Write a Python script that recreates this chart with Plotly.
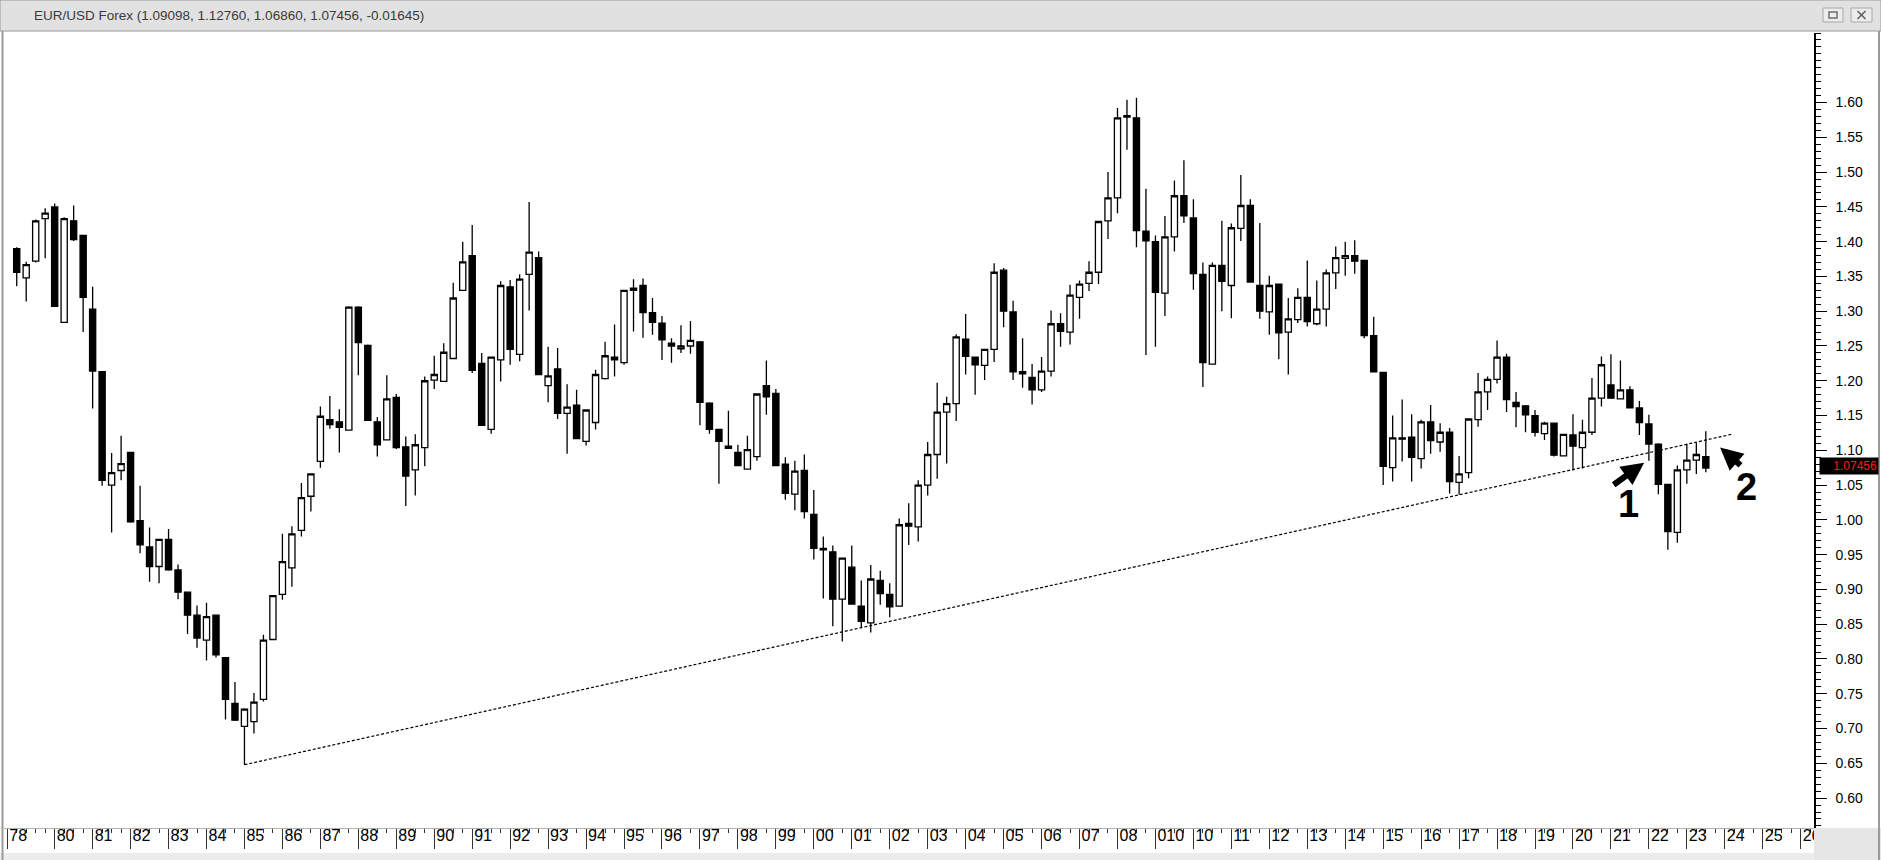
import plotly.graph_objects as go

# quarterly EUR/USD candles (oldest first)
opens = [1.390, 1.348, 1.372, 1.433, 1.450, 1.284, 1.430, 1.409, 1.303, 1.213,
         1.050, 1.071, 1.097, 0.999, 0.961, 0.933, 0.972, 0.928, 0.896, 0.863,
         0.827, 0.863, 0.802, 0.736, 0.703, 0.710, 0.742, 0.828, 0.893, 0.931,
         0.985, 1.034, 1.084, 1.144, 1.141, 1.129, 1.306, 1.251, 1.141, 1.115,
         1.176, 1.105, 1.072, 1.104, 1.201, 1.199, 1.232, 1.330, 1.380, 1.225,
         1.130, 1.230, 1.335, 1.238, 1.353, 1.377, 1.193, 1.217, 1.153, 1.165,
         1.113, 1.140, 1.203, 1.234, 1.226, 1.330, 1.337, 1.298, 1.283, 1.254,
         1.246, 1.250, 1.256, 1.168, 1.130, 1.106, 1.097, 1.073, 1.091, 1.193,
         1.182, 1.080, 1.037, 1.071, 1.008, 0.959, 0.954, 0.886, 0.932, 0.876,
         0.852, 0.913, 0.893, 0.876, 0.995, 0.990, 1.050, 1.094, 1.155, 1.167,
         1.260, 1.234, 1.222, 1.245, 1.359, 1.299, 1.213, 1.205, 1.187, 1.214,
         1.282, 1.270, 1.320, 1.340, 1.356, 1.430, 1.463, 1.579, 1.578, 1.415,
         1.400, 1.326, 1.407, 1.466, 1.434, 1.353, 1.224, 1.366, 1.337, 1.419,
         1.452, 1.337, 1.299, 1.339, 1.270, 1.288, 1.320, 1.282, 1.303, 1.355,
         1.376, 1.380, 1.373, 1.265, 1.212, 1.075, 1.118, 1.119, 1.088, 1.141,
         1.112, 1.126, 1.054, 1.068, 1.144, 1.184, 1.202, 1.234, 1.169, 1.164,
         1.150, 1.124, 1.139, 1.092, 1.122, 1.104, 1.126, 1.175, 1.194, 1.174,
         1.187, 1.161, 1.138, 1.109, 1.051, 0.982, 1.072, 1.086, 1.09098]
highs = [1.392, 1.371, 1.432, 1.448, 1.455, 1.435, 1.452, 1.410, 1.335, 1.214,
         1.096, 1.121, 1.098, 1.049, 0.989, 0.973, 0.987, 0.936, 0.897, 0.877,
         0.881, 0.864, 0.802, 0.767, 0.729, 0.751, 0.835, 0.892, 0.980, 0.991,
         1.053, 1.067, 1.163, 1.178, 1.159, 1.307, 1.307, 1.252, 1.148, 1.208,
         1.181, 1.120, 1.123, 1.206, 1.236, 1.254, 1.341, 1.400, 1.424, 1.240,
         1.235, 1.343, 1.345, 1.353, 1.457, 1.386, 1.249, 1.247, 1.195, 1.187,
         1.159, 1.216, 1.256, 1.281, 1.331, 1.346, 1.347, 1.319, 1.293, 1.261,
         1.280, 1.286, 1.257, 1.169, 1.131, 1.157, 1.108, 1.121, 1.182, 1.229,
         1.188, 1.090, 1.085, 1.094, 1.043, 0.976, 0.963, 0.946, 0.963, 0.913,
         0.935, 0.927, 0.909, 1.002, 1.024, 1.057, 1.112, 1.197, 1.177, 1.267,
         1.296, 1.235, 1.246, 1.369, 1.362, 1.315, 1.261, 1.224, 1.234, 1.301,
         1.297, 1.338, 1.344, 1.372, 1.430, 1.500, 1.592, 1.604, 1.607, 1.476,
         1.409, 1.437, 1.488, 1.517, 1.461, 1.370, 1.370, 1.430, 1.426, 1.496,
         1.461, 1.427, 1.351, 1.340, 1.319, 1.333, 1.373, 1.344, 1.360, 1.393,
         1.400, 1.402, 1.374, 1.292, 1.213, 1.150, 1.173, 1.152, 1.144, 1.165,
         1.139, 1.132, 1.092, 1.146, 1.211, 1.206, 1.258, 1.239, 1.184, 1.165,
         1.158, 1.141, 1.140, 1.124, 1.152, 1.144, 1.204, 1.235, 1.238, 1.229,
         1.192, 1.171, 1.151, 1.110, 1.052, 1.078, 1.109, 1.111, 1.12760]
lows = [1.336, 1.314, 1.370, 1.376, 1.306, 1.283, 1.401, 1.270, 1.160, 1.049,
        0.982, 1.057, 0.996, 0.952, 0.911, 0.909, 0.927, 0.886, 0.836, 0.816,
        0.798, 0.802, 0.713, 0.711, 0.648, 0.693, 0.739, 0.827, 0.885, 0.904,
        0.976, 1.012, 1.075, 1.131, 1.097, 1.128, 1.208, 1.142, 1.091, 1.114,
        1.102, 1.020, 1.035, 1.077, 1.188, 1.199, 1.231, 1.329, 1.211, 1.135,
        1.124, 1.199, 1.223, 1.228, 1.301, 1.208, 1.169, 1.145, 1.095, 1.116,
        1.107, 1.130, 1.202, 1.206, 1.223, 1.271, 1.262, 1.266, 1.230, 1.226,
        1.240, 1.239, 1.136, 1.124, 1.052, 1.102, 1.077, 1.072, 1.085, 1.151,
        1.077, 1.029, 1.014, 1.002, 0.943, 0.887, 0.847, 0.825, 0.878, 0.846,
        0.838, 0.878, 0.860, 0.875, 0.964, 0.969, 1.035, 1.059, 1.081, 1.142,
        1.209, 1.180, 1.201, 1.227, 1.277, 1.201, 1.190, 1.166, 1.184, 1.206,
        1.249, 1.252, 1.289, 1.329, 1.339, 1.404, 1.441, 1.532, 1.392, 1.237,
        1.249, 1.293, 1.386, 1.427, 1.331, 1.191, 1.223, 1.300, 1.290, 1.401,
        1.341, 1.289, 1.266, 1.231, 1.209, 1.283, 1.278, 1.280, 1.278, 1.332,
        1.351, 1.354, 1.261, 1.212, 1.050, 1.055, 1.084, 1.055, 1.074, 1.095,
        1.098, 1.038, 1.036, 1.060, 1.134, 1.158, 1.196, 1.155, 1.133, 1.126,
        1.120, 1.115, 1.091, 1.091, 1.071, 1.074, 1.122, 1.163, 1.174, 1.173,
        1.160, 1.122, 1.085, 1.037, 0.957, 0.967, 1.052, 1.066, 1.06860]
closes = [1.356, 1.367, 1.430, 1.441, 1.307, 1.433, 1.403, 1.320, 1.214, 1.057,
          1.068, 1.081, 0.997, 0.964, 0.933, 0.972, 0.928, 0.896, 0.863, 0.830,
          0.861, 0.806, 0.742, 0.712, 0.728, 0.738, 0.827, 0.891, 0.940, 0.980,
          1.032, 1.066, 1.149, 1.137, 1.133, 1.306, 1.255, 1.143, 1.108, 1.174,
          1.104, 1.063, 1.108, 1.200, 1.209, 1.241, 1.319, 1.371, 1.215, 1.136,
          1.234, 1.337, 1.245, 1.346, 1.385, 1.209, 1.207, 1.153, 1.162, 1.117,
          1.158, 1.209, 1.236, 1.230, 1.330, 1.333, 1.298, 1.284, 1.259, 1.250,
          1.250, 1.258, 1.169, 1.130, 1.113, 1.103, 1.078, 1.101, 1.181, 1.177,
          1.078, 1.038, 1.070, 1.012, 0.959, 0.957, 0.886, 0.945, 0.879, 0.854,
          0.915, 0.894, 0.875, 0.993, 0.991, 1.050, 1.094, 1.155, 1.167, 1.263,
          1.235, 1.223, 1.245, 1.356, 1.300, 1.213, 1.210, 1.187, 1.214, 1.282,
          1.271, 1.323, 1.339, 1.356, 1.429, 1.463, 1.578, 1.581, 1.416, 1.401,
          1.327, 1.407, 1.466, 1.437, 1.354, 1.226, 1.366, 1.343, 1.420, 1.452,
          1.342, 1.300, 1.337, 1.269, 1.289, 1.320, 1.285, 1.303, 1.355, 1.377,
          1.380, 1.372, 1.265, 1.213, 1.077, 1.118, 1.116, 1.090, 1.141, 1.114,
          1.126, 1.055, 1.066, 1.145, 1.184, 1.202, 1.234, 1.173, 1.163, 1.151,
          1.126, 1.139, 1.093, 1.123, 1.106, 1.126, 1.175, 1.223, 1.175, 1.187,
          1.161, 1.140, 1.109, 1.051, 0.983, 1.072, 1.086, 1.094, 1.07456]

# bottom axis labels, one per year (as printed by the charting program)
year_labels = ["78", "80", "81", "82", "83", "84", "85", "86", "87", "88", "89",
               "90", "91", "92", "93", "94", "95", "96", "97", "98", "99", "00",
               "01", "02", "03", "04", "05", "06", "07", "08", "010", "10", "11",
               "12", "13", "14", "15", "16", "17", "18", "19", "20", "21", "22",
               "23", "24", "25", "26"]
year_ticks = [-1] + list(range(4, 4 * len(year_labels), 4))

price_ticks = [0.60, 0.65, 0.70, 0.75, 0.80, 0.85, 0.90, 0.95, 1.00, 1.05, 1.10,
               1.15, 1.20, 1.25, 1.30, 1.35, 1.40, 1.45, 1.50, 1.55, 1.60]

# hand-drawn support line (bar index, price)
trend_x = [24, 180.7]
trend_y = [0.648, 1.123]

# the two annotated arrows: head position, tail offset in px, number position
arrow_x = [171.5, 179.5]
arrow_y = [1.082, 1.104]
arrow_ax = [-32, 22]
arrow_ay = [23, 19]
num_text = ["1", "2"]
num_x = [169.8, 182.3]
num_y = [1.023, 1.047]

last_price = 1.07456
title = "EUR/USD Forex (1.09098, 1.12760, 1.06860, 1.07456, -0.01645)"

W, H = 1881, 860
L, R, T, B = 4, 67, 33, 32


def px(x):
    return (x - L) / (W - L - R)


def py(y):
    return (H - B - y) / (H - T - B)


bars = list(range(len(opens)))

fig = go.Figure()
fig.add_trace(go.Candlestick(
    x=bars, open=opens, high=highs, low=lows, close=closes,
    increasing=dict(fillcolor="white", line=dict(color="black", width=1.3)),
    decreasing=dict(fillcolor="black", line=dict(color="black", width=1.3)),
    whiskerwidth=0, showlegend=False, hoverinfo="skip",
))
fig.add_trace(go.Scatter(
    x=trend_x, y=trend_y, mode="lines",
    line=dict(color="black", width=1.2, dash="3px,2px"),
    showlegend=False, hoverinfo="skip",
))

for i in range(2):
    fig.add_annotation(x=arrow_x[i], y=arrow_y[i], ax=arrow_ax[i], ay=arrow_ay[i],
                       text="", showarrow=True, arrowhead=2, arrowsize=0.75,
                       arrowwidth=6, arrowcolor="black")
    fig.add_annotation(x=num_x[i], y=num_y[i], text=num_text[i], showarrow=False,
                       font=dict(family="Liberation Sans, Arial", size=38, color="black",
                                 weight="bold"))

# current price marker on the price scale
fig.add_annotation(xref="paper", x=1.0, xanchor="left", xshift=5, yref="y", y=last_price,
                   yshift=2, text="1.07456", showarrow=False, bgcolor="black",
                   font=dict(family="Liberation Sans, Arial", size=12, color="#ff1a1a"),
                   width=56, height=14, borderpad=1, align="right")

# window chrome
shapes = [
    dict(type="rect", xref="paper", yref="paper", x0=px(0), x1=px(W), y0=py(31), y1=py(0),
         fillcolor="#e1e1e1", line=dict(color="#9a9a9a", width=1)),
    dict(type="rect", xref="paper", yref="paper", x0=px(1823), x1=px(1843), y0=py(22), y1=py(8),
         fillcolor="#ececec", line=dict(color="#a8a8a8", width=1)),
    dict(type="rect", xref="paper", yref="paper", x0=px(1829), x1=px(1837), y0=py(18), y1=py(12),
         fillcolor="#ececec", line=dict(color="#707070", width=1.5)),
    dict(type="rect", xref="paper", yref="paper", x0=px(1851), x1=px(1872), y0=py(22), y1=py(8),
         fillcolor="#ececec", line=dict(color="#a8a8a8", width=1)),
    dict(type="line", xref="paper", yref="paper", x0=px(1857.5), x1=px(1865.5), y0=py(11), y1=py(19),
         line=dict(color="#606060", width=1.6)),
    dict(type="line", xref="paper", yref="paper", x0=px(1857.5), x1=px(1865.5), y0=py(19), y1=py(11),
         line=dict(color="#606060", width=1.6)),
    dict(type="rect", xref="paper", yref="paper", x0=px(0), x1=px(W), y0=py(H), y1=py(853),
         fillcolor="#ececec", line=dict(width=0)),
    dict(type="rect", xref="paper", yref="paper", x0=px(1814), x1=px(W), y0=py(H), y1=py(828),
         fillcolor="#e6e6e6", line=dict(width=0)),
    dict(type="line", xref="paper", yref="paper", x0=px(2.5), x1=px(2.5), y0=py(H), y1=py(31),
         line=dict(color="#9a9a9a", width=2)),
    dict(type="line", xref="paper", yref="paper", x0=px(1879), x1=px(1879), y0=py(H), y1=py(31),
         line=dict(color="#9a9a9a", width=2)),
]
fig.add_annotation(xref="paper", yref="paper", x=px(32), y=py(15), xanchor="left",
                   yanchor="middle", text=title, showarrow=False,
                   font=dict(family="Liberation Sans, Arial", size=13.5, color="#3a3a3a"))

fig.update_layout(
    width=W, height=H, margin=dict(l=L, r=R, t=T, b=B, pad=0),
    paper_bgcolor="white", plot_bgcolor="white", showlegend=False,
    boxgap=0.35, boxgroupgap=0, shapes=shapes,
    font=dict(family="Liberation Sans, Arial, sans-serif", color="black"),
)
fig.update_xaxes(
    range=[-1.34, 189.4], rangeslider_visible=False, showgrid=False, zeroline=False,
    tickmode="array", tickvals=year_ticks, ticktext=year_labels,
    ticks="outside", ticklen=20, tickwidth=1, tickcolor="#333333",
    ticklabelposition="outside right", ticklabelstandoff=-7, ticklabelshift=1,
    tickfont=dict(family="Liberation Sans Narrow, Arial Narrow, Liberation Sans", size=16,
                  color="black"),
    minor=dict(tickmode="linear", tick0=0, dtick=1, ticks="outside", ticklen=4,
               tickcolor="#333333", tickwidth=1),
    showline=True, linecolor="#b0b0b0", linewidth=1,
)
fig.update_yaxes(
    range=[0.557, 1.70], side="right", showgrid=False, zeroline=False,
    tickmode="array", tickvals=price_ticks, tickformat=".2f",
    ticks="outside", ticklen=11, tickwidth=1, tickcolor="black", ticklabelstandoff=6,
    tickfont=dict(family="Liberation Sans, Arial", size=14, color="black"),
    minor=dict(tickmode="linear", tick0=0, dtick=0.01, ticks="outside", ticklen=5,
               tickcolor="black", tickwidth=1),
    showline=True, linecolor="black", linewidth=1.5,
)

# the page body has a default 8px margin; drop it so the chart fills the window
fig.write_html("out.html", config={"displayModeBar": False},
               post_script="document.body.style.margin='0';")
